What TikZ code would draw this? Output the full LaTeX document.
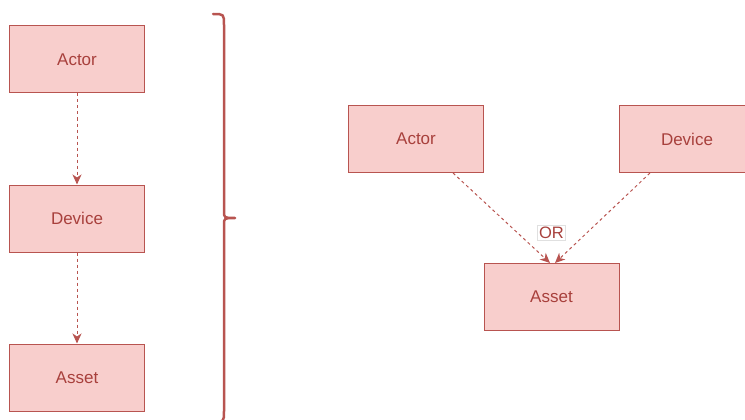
\documentclass[tikz,border=0pt]{standalone}
\usepackage{fontspec}
\setmainfont{Liberation Sans}
\usetikzlibrary{positioning,arrows.meta}

\definecolor{boxfill}{HTML}{F8CECC}
\definecolor{boxline}{HTML}{B85450}
\definecolor{boxtext}{HTML}{A8403C}

\begin{document}
\begin{tikzpicture}[
  x=1pt,y=-1pt,
  node distance=91pt and 0pt,
  box/.style={draw=boxline,fill=boxfill,line width=1pt,minimum width=135pt,minimum height=67pt,
    text=boxtext,font=\fontsize{17}{20}\selectfont},
  link/.style={draw=boxline,line width=1pt,dash pattern=on 3pt off 3pt,
    -{Stealth[length=10pt,width=9pt,inset=3pt]}},
  orlabel/.style={draw=black!12,fill=white,text=boxtext,inner sep=1.5pt,font=\fontsize{16.5}{19}\selectfont},
  brace/.style={draw=boxline,line width=2.5pt,line cap=round,line join=round}
]
\useasboundingbox (0,0) rectangle (745,420);

% chain on the left
\node[box] (actor) at (77,59.5) {Actor};
\node[box,below=of actor] (device) {Device};
\node[box,below=of device] (asset) {Asset};

\path (actor) edge[link] (device)
(device) edge[link] (asset);

% curly bracket
\draw[brace] (213,14) .. controls (224,14) .. (224,25) -- (224,211)
  .. controls (224,218) .. (235,218)
  .. controls (224,218) .. (224,225) -- (224,411)
  .. controls (224,422) .. (213,422);

% either one leads to the asset
\node[box] (ractor) at (416,139) {Actor};
\node[box,below right=90pt and -0.5pt of ractor] (rasset) {Asset};
\node[box,above right=90pt and -0.5pt of rasset] (rdevice) {Device};
\node[orlabel,above=23pt of rasset] (or) {OR};

\draw[link] ([xshift=37pt]ractor.south) -- ([xshift=-1.5pt]rasset.north);
\draw[link] ([xshift=-37pt]rdevice.south) -- ([xshift=3.5pt]rasset.north);

\end{tikzpicture}
\end{document}
